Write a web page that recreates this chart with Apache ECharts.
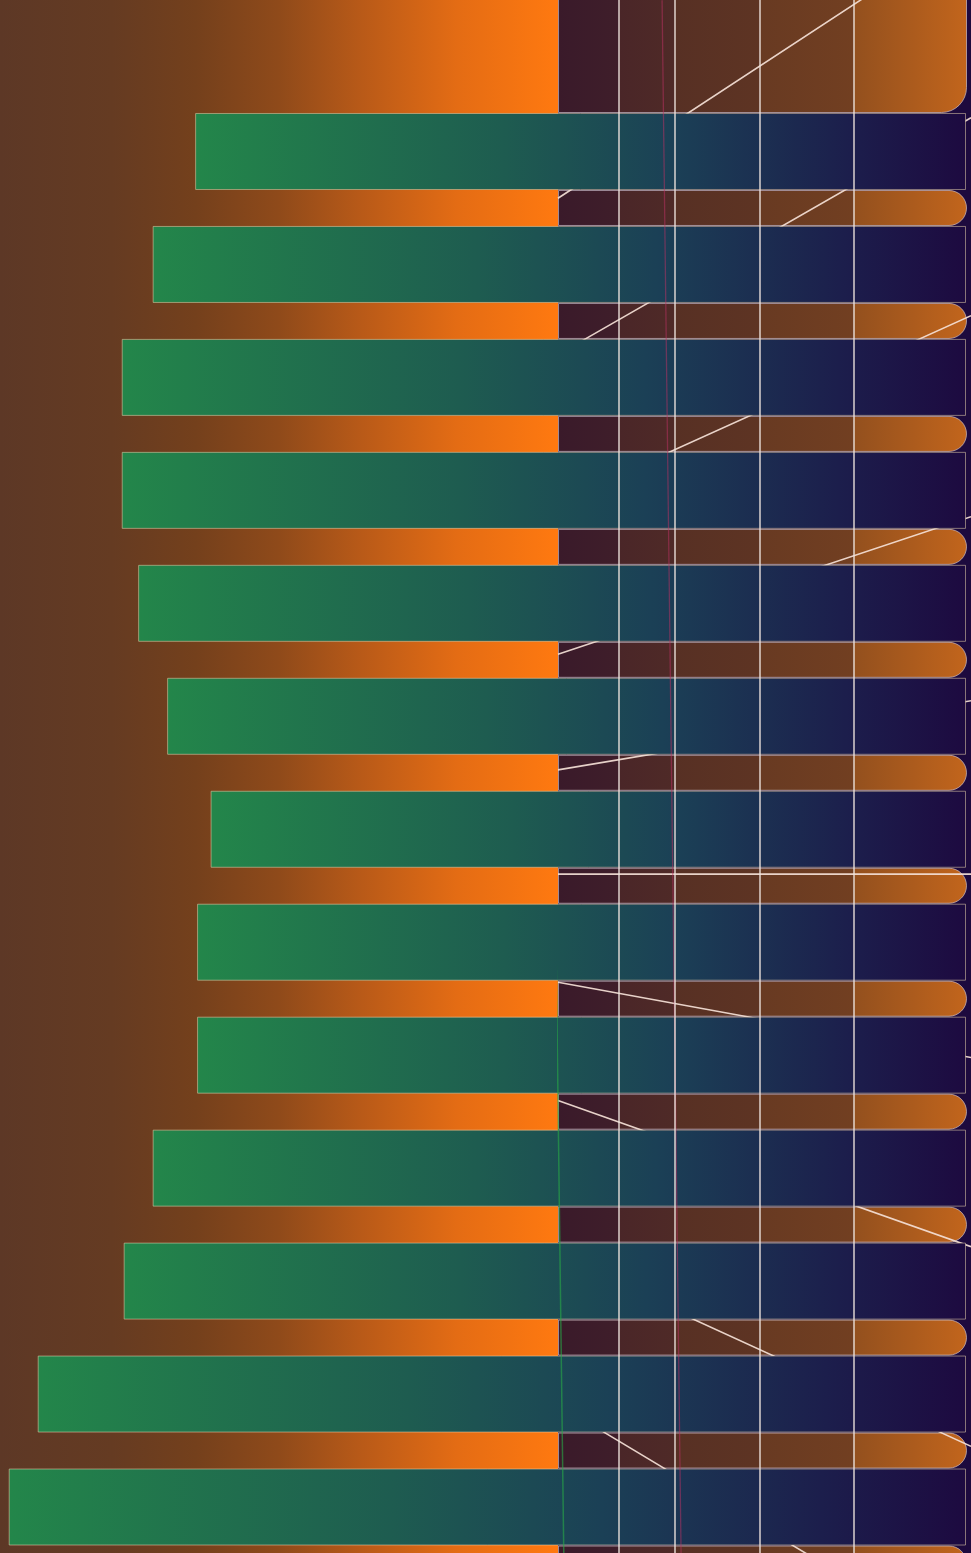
<!DOCTYPE html>
<html>
<head>
<meta charset="utf-8">
<script src="https://cdn.jsdelivr.net/npm/echarts@6/dist/echarts.min.js"></script>
<style>
  html, body { margin: 0; padding: 0; background: #1d0a3e; }
  #chart { width: 971px; height: 1553px; }
</style>
</head>
<body>
<div id="chart"></div>
<script>
// ---- data ----
const rows = ['R1','R2','R3','R4','R5','R6','R7','R8','R9','R10','R11','R12','R13'];
const barValues = [79.8, 84.2, 87.4, 87.4, 85.7, 82.7, 78.2, 79.6, 79.6, 84.2, 87.2, 96.1, 99.1];

const gaps = ['G1','G2','G3','G4','G5','G6','G7','G8','G9','G10','G11','G12','G13'];
const gapValues = [100, 100, 100, 100, 100, 100, 100, 100, 100, 100, 100, 100, 100];
const topBand = ['T'];
const topValues = [100];

const gridTicks = [14.8, 28.3, 48.9, 71.7];

const rayX = [0, 100];
const rayYStart = [1.414, 2.798, 4.107, 5.451, 6.474, 7.397, 8.355, 9.402, 10.788, 12.093];
const rayYEnd   = [-0.981, 0.701, 2.454, 4.233, 5.862, 7.397, 9.020, 10.695, 12.463, 14.287];

const guideY = [-0.34, 13.41];
const greenGuideX = [-3.4, 1.4];
const redGuideX = [25.2, 29.8];

// ---- build ----
const rayData = [];
for (let i = 0; i < rayYStart.length; i++) {
  rayData.push([rayX[0], rayYStart[i]]);
  rayData.push([rayX[1], rayYEnd[i]]);
  rayData.push(['-', '-']);
}

const leftGrad = {
  type: 'linear', x: 0, y: 0, x2: 1, y2: 0,
  colorStops: [
    { offset: 0, color: '#5d3826' },
    { offset: 0.2, color: '#653b22' },
    { offset: 0.35, color: '#74401c' },
    { offset: 0.5, color: '#8f4a1a' },
    { offset: 0.65, color: '#b95a18' },
    { offset: 0.82, color: '#e46c14' },
    { offset: 1, color: '#ff7910' }
  ]
};
const stripGrad = {
  type: 'linear', x: 0, y: 0, x2: 1, y2: 0,
  colorStops: [
    { offset: 0, color: '#3a1a2a' },
    { offset: 0.149, color: '#3f1e2a' },
    { offset: 0.149, color: '#4a2628' },
    { offset: 0.286, color: '#4f2a27' },
    { offset: 0.286, color: '#573024' },
    { offset: 0.494, color: '#5e3423' },
    { offset: 0.494, color: '#683a22' },
    { offset: 0.724, color: '#723f21' },
    { offset: 0.724, color: '#93501e' },
    { offset: 1, color: '#c2651c' }
  ]
};
const barGrad = {
  type: 'linear', x: 0, y: 0, x2: 1, y2: 0,
  colorStops: [
    { offset: 0, color: '#23864a' },
    { offset: 0.4, color: '#1e5c50' },
    { offset: 0.62, color: '#1b4056' },
    { offset: 0.85, color: '#1c1e4c' },
    { offset: 1, color: '#1d0a40' }
  ]
};

const hiddenCat = (grid, data, inverse) => ({
  type: 'category', gridIndex: grid, data: data, inverse: inverse, show: false
});
const hiddenVal = (grid, min, max, inverse) => ({
  type: 'value', gridIndex: grid, min: min, max: max, inverse: !!inverse, show: false,
  splitLine: { show: false }
});

const option = {
  animation: false,
  backgroundColor: '#1d0a3e',
  grid: [
    { left: 0, top: 0, width: 558, bottom: 0, show: true, borderWidth: 0, backgroundColor: leftGrad, outerBoundsMode: 'none', containLabel: false },
    { left: 558, right: 4, top: -40, height: 153, outerBoundsMode: 'none', containLabel: false },
    { left: 558, right: 4, top: 151.5, height: 1468.5, outerBoundsMode: 'none', containLabel: false },
    { left: 0, right: 5, top: 95, height: 1468.5, outerBoundsMode: 'none', containLabel: false },
    { left: 558, right: 0, top: -74.42, height: 1807.36, outerBoundsMode: 'none', containLabel: false }
  ],
  xAxis: [
    hiddenVal(0, 0, 100),
    hiddenVal(1, 0, 100),
    hiddenVal(2, 0, 100),
    hiddenVal(3, 0, 100, true),
    hiddenVal(4, 0, 100)
  ],
  yAxis: [
    hiddenVal(0, 0, 1),
    hiddenCat(1, topBand, true),
    hiddenCat(2, gaps, true),
    hiddenCat(3, rows, true),
    hiddenVal(4, -1, 15, true)
  ],
  series: [
    {
      name: 'top', type: 'bar', xAxisIndex: 1, yAxisIndex: 1, z: 1,
      barWidth: '100%', data: topValues,
      itemStyle: { color: stripGrad, borderRadius: [0, 25, 25, 0],
        borderColor: 'rgba(205,190,195,0.7)', borderWidth: 1 }
    },
    {
      name: 'gaps', type: 'bar', xAxisIndex: 2, yAxisIndex: 2, z: 1,
      barWidth: 36, data: gapValues,
      itemStyle: { color: stripGrad, borderRadius: [0, 19, 19, 0],
        borderColor: 'rgba(205,190,195,0.7)', borderWidth: 1 }
    },
    {
      name: 'rays', type: 'line', xAxisIndex: 4, yAxisIndex: 4, z: 2,
      clip: true, showSymbol: false, symbol: 'none', connectNulls: false,
      data: rayData,
      lineStyle: { color: 'rgba(245,225,215,0.92)', width: 1.6 },
      markLine: {
        silent: true, symbol: 'none', label: { show: false },
        lineStyle: { color: 'rgba(238,228,222,0.85)', type: 'solid', width: 1.6 },
        data: gridTicks.map(v => ({ xAxis: v }))
      }
    },
    {
      name: 'bars', type: 'bar', xAxisIndex: 3, yAxisIndex: 3, z: 3,
      barWidth: 77, data: barValues,
      itemStyle: { color: barGrad, borderColor: 'rgba(225,205,170,0.55)', borderWidth: 1 }
    },
    {
      name: 'guideGreen', type: 'line', xAxisIndex: 4, yAxisIndex: 4, z: 4,
      clip: false, showSymbol: false, symbol: 'none',
      data: guideY.map((y, i) => [greenGuideX[i], y]),
      lineStyle: { color: 'rgba(40,170,70,0.6)', width: 1.5 }
    },
    {
      name: 'guideRed', type: 'line', xAxisIndex: 4, yAxisIndex: 4, z: 4,
      clip: false, showSymbol: false, symbol: 'none',
      data: guideY.map((y, i) => [redGuideX[i], y]),
      lineStyle: { color: 'rgba(190,50,100,0.5)', width: 1.3 }
    }
  ]
};

const chart = echarts.init(document.getElementById('chart'), null, { renderer: 'canvas' });
chart.setOption(option);
</script>
</body>
</html>
